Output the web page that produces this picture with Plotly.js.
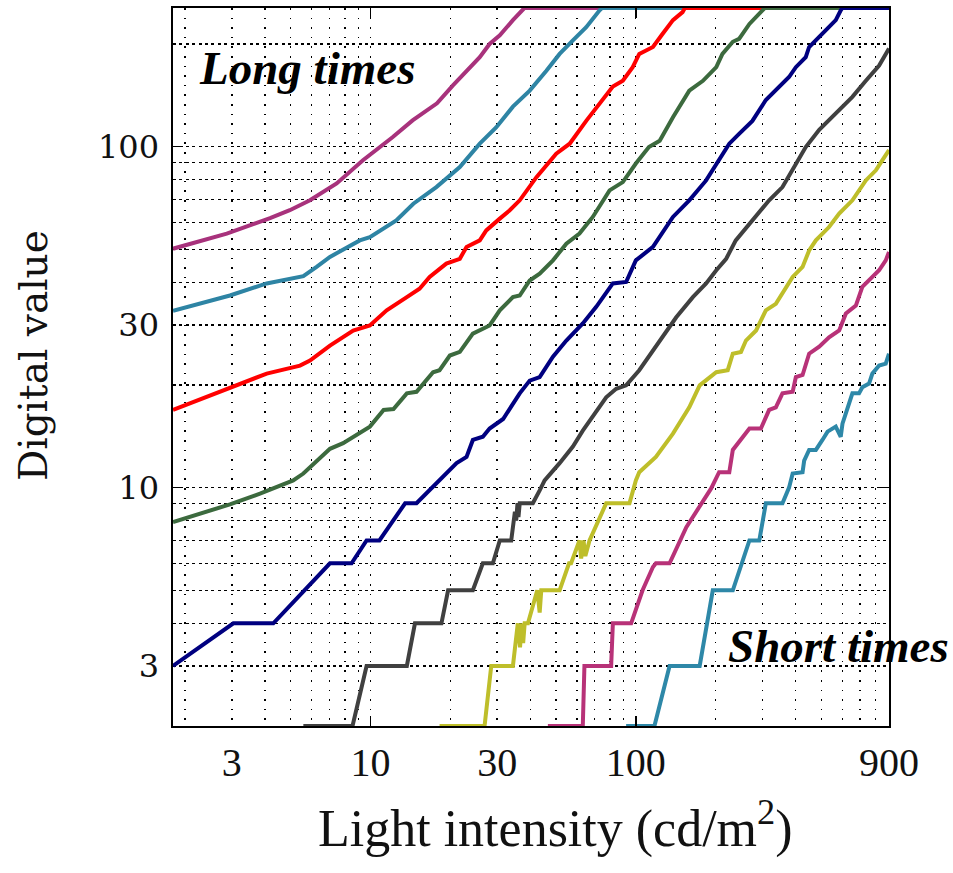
<!DOCTYPE html>
<html>
<head>
<meta charset="utf-8">
<script src="https://cdn.plot.ly/plotly-3.0.1.min.js"></script>
<style>html,body{margin:0;padding:0;background:#fff;}#chart{width:953px;height:873px;}</style>
</head>
<body>
<div id="chart"></div>
<script>
// Light intensity (cd/m^2) vs digital value, one series per exposure time (long -> short)
var c1x = [1.8, 2.87, 4.18, 4.96, 5.91, 7.45, 9.36, 12.1, 14.4, 17.8, 20.4, 23.0, 25.8, 28.1, 30.7, 34.4, 37.0, 38.0, 900];
var c1y = [50.2, 55.6, 61.7, 65.1, 69.6, 78, 91.2, 106.5, 119.4, 134, 151, 167, 183, 200, 212, 235, 251, 255, 255];

var c2x = [1.8, 2.95, 4.06, 5.58, 6.26, 7.03, 9.11, 9.94, 12.5, 14.5, 17.7, 21.7, 25.8, 29.8, 34.4, 39.8, 46.0, 51.6, 57.9, 65.0, 73.0, 74.5, 900];
var c2y = [33.0, 36.6, 39.7, 41.7, 44.4, 47.5, 53.1, 54.3, 60.8, 68.0, 76.1, 87.1, 102, 114, 131, 146, 167, 187, 205, 224, 251, 255, 255];

var c3x = [1.8, 2.95, 4.06, 5.42, 5.91, 7.03, 8.60, 9.94, 11.5, 13.7, 15.3, 16.7, 19.3, 21.7, 23.0, 25.8, 27.3, 30.7, 33.4, 36.5, 42.2, 50.1, 56.3, 65.0, 75.1, 81.9, 89.3, 97.3, 103, 116, 126, 138, 150, 153, 900];
var c3y = [16.9, 19.7, 21.6, 22.8, 23.6, 26.1, 28.9, 29.9, 33.1, 36.2, 38.3, 41.5, 45.4, 46.9, 50.8, 53.1, 56.8, 61.5, 65.0, 69.6, 81.4, 95.4, 102, 119, 137, 150, 156, 171, 187, 196, 214, 235, 248, 255, 255];

var c4x = [1.8, 2.95, 3.83, 5.11, 5.58, 7.03, 7.88, 9.94, 11.2, 12.2, 13.7, 14.9, 17.2, 18.2, 19.9, 21.7, 24.3, 28.1, 30.7, 34.4, 36.5, 39.8, 43.4, 48.7, 54.7, 61.3, 68.8, 79.6, 89.3, 100, 112, 123, 138, 159, 179, 201, 212, 232, 245, 268, 300, 306, 900];
var c4y = [7.93, 8.93, 9.60, 10.5, 11.0, 13.0, 13.5, 15.1, 16.9, 17.0, 18.9, 19.1, 21.8, 22.1, 24.4, 25.0, 28.3, 29.9, 33.1, 36.2, 36.6, 40.5, 42.4, 46.4, 51.9, 55.6, 62.2, 74.4, 78.7, 89.2, 99.7, 104, 122, 146, 156, 171, 187, 203, 207, 229, 251, 255, 255];

var c5x = [1.8, 3.04, 4.30, 7.03, 8.48, 9.66, 10.8, 12.2, 13.5, 14.9, 18.2, 19.3, 21.1, 23.0, 24.3, 26.5, 28.1, 31.6, 34.4, 36.5, 39.8, 43.4, 48.7, 54.7, 63.1, 70.9, 81.9, 91.9, 100, 116, 138, 159, 184, 201, 225, 245, 275, 309, 347, 378, 401, 437, 450, 505, 567, 592, 600, 900];
var c5y = [3, 4, 4, 6, 6, 7, 7, 8, 9, 9, 10.5, 11.0, 11.8, 12.3, 13.8, 14.1, 14.9, 15.9, 17.6, 18.9, 20.6, 21.1, 24.2, 27.0, 30.3, 33.9, 39.7, 40.1, 46.4, 50.8, 62.2, 69.6, 79.6, 89.2, 102, 109, 119, 137, 150, 160, 171, 183, 196, 214, 235, 251, 255, 255];

var c6x = [5.58, 8.55, 9.66, 13.7, 14.7, 18.5, 19.6, 24.3, 26.5, 28.9, 30.7, 33.9, 35.0, 35.4, 35.8, 36.1, 36.5, 40.9, 43.4, 45.3, 51.6, 57.9, 63.1, 68.8, 77.3, 84.3, 91.9, 103, 116, 130, 142, 164, 184, 201, 219, 238, 275, 318, 357, 390, 437, 491, 567, 655, 736, 826, 900];
var c6y = [2, 2, 3, 3, 4, 4, 5, 5, 6, 6, 7, 7, 8.5, 8, 9, 8.2, 9, 9, 9.82, 10.5, 11.8, 13.2, 14.7, 16.1, 18.4, 19.5, 19.95, 22.1, 25.3, 28.9, 31.6, 36.2, 39.7, 43.4, 46.9, 53.1, 60.8, 69.6, 76.1, 85.2, 99.7, 112, 125, 140, 156, 173, 194];

var c7x = [18.2, 26.9, 28.5, 34.4, 35.9, 36.6, 37.1, 37.6, 38.1, 39.2, 42.5, 43.4, 44.0, 44.5, 51.6, 56, 57, 61.3, 62.2, 63.5, 64.5, 66.9, 77.3, 94.6, 100, 103, 119, 138, 159, 174, 201, 222, 232, 249, 260, 284, 309, 337, 368, 390, 425, 450, 477, 535, 584, 655, 736, 803, 850, 900];
var c7y = [2, 2, 3, 3, 4, 3.4, 4, 3.5, 4, 4, 5, 4.3, 5, 5, 5, 6, 6, 7, 6.2, 7, 6.3, 7, 9, 9, 10.5, 11.1, 12.3, 14.4, 17.2, 19.95, 21.8, 22.1, 24.7, 25.0, 27.0, 28.9, 33.1, 34.6, 38.8, 41.5, 44.4, 49.6, 53.1, 58.1, 63.6, 69.6, 79.6, 85.2, 91.3, 97.7];

var c8x = [46.6, 63.1, 64.0, 80.7, 81.9, 96.0, 106, 116, 119, 134, 155, 179, 192, 206, 225, 232, 268, 296, 318, 337, 357, 390, 401, 425, 450, 491, 535, 584, 619, 675, 714, 779, 826, 875, 900];
var c8y = [2, 2, 3, 3, 4, 4, 5, 5.85, 6, 6, 7.66, 9.18, 9.93, 11.1, 11.1, 12.9, 14.9, 14.9, 16.9, 17.2, 18.9, 19.1, 21.1, 21.4, 24.7, 25.9, 27.6, 28.9, 32.4, 34.2, 38.8, 41.5, 43.4, 46.4, 49.1];

var c9x = [91.9, 117.5, 134, 174, 195, 232, 268, 292, 309, 357, 378, 390, 425, 431, 450, 477, 505, 528, 567, 592, 601, 627, 655, 694, 714, 757, 779, 826, 875, 900];
var c9y = [2, 2, 3, 3, 5, 5, 7, 7, 9, 9, 10, 11.0, 11.1, 12.0, 12.9, 12.9, 13.8, 14.6, 15.1, 14.1, 15.4, 17.2, 18.9, 18.9, 19.7, 20.2, 21.6, 22.8, 23.1, 24.7];

var seriesX = [c1x, c2x, c3x, c4x, c5x, c6x, c7x, c8x, c9x];
var seriesY = [c1y, c2y, c3y, c4y, c5y, c6y, c7y, c8y, c9y];
var colors = ['#A8327C', '#2E84A4', '#FF0000', '#3C6A3E', '#000080', '#404040', '#BEBE2A', '#B83278', '#2E88A8'];

// gridlines and tick labels
var gridX = [2,3,4,5,6,7,8,9,10,20,30,40,50,60,70,80,90,100,200,300,400,500,600,700,800,900];
var labelsX = {3:'3', 10:'10', 30:'30', 100:'100', 900:'900'};
var gridY = [2,3,4,5,6,7,8,9,10,20,30,40,50,60,70,80,90,100,200];
var labelsY = {3:'3', 10:'10', 30:'30', 100:'100'};
var decadeTicks = [10, 100];
var xRange = [Math.log10(1.8), Math.log10(900)];
var yRange = [Math.log10(2), Math.log10(255)];

var traces = seriesX.map(function (xs, i) {
  return {x: xs, y: seriesY[i], type: 'scatter', mode: 'lines',
    line: {color: colors[i], width: 4}, hoverinfo: 'skip', showlegend: false};
});
traces.push({x: [], y: [], xaxis: 'x2', yaxis: 'y2', type: 'scatter', mode: 'lines', showlegend: false, hoverinfo: 'skip'});

var layout = {
  width: 953, height: 873,
  margin: {l: 173, r: 64, t: 8, b: 147},
  paper_bgcolor: '#fff', plot_bgcolor: '#fff',
  showlegend: false,
  xaxis: {
    type: 'log', range: xRange, autorange: false,
    tickmode: 'array', tickvals: gridX, tickangle: 0,
    ticktext: gridX.map(function (v) { return labelsX[v] || ''; }),
    ticks: '', showgrid: true, gridcolor: '#000', gridwidth: 1.3, griddash: '1.6px,8px',
    showline: true, linecolor: '#000', linewidth: 1.6, mirror: true, zeroline: false,
    tickfont: {family: 'Liberation Serif, serif', size: 40, color: '#111'},
    ticklabelstandoff: 0
  },
  yaxis: {
    type: 'log', range: yRange, autorange: false,
    tickmode: 'array', tickvals: gridY, tickangle: 0,
    ticktext: gridY.map(function (v) { return labelsY[v] || ''; }),
    ticks: '', showgrid: true, gridcolor: '#000', gridwidth: 1.3, griddash: '3px,3.4px',
    showline: true, linecolor: '#000', linewidth: 1.6, mirror: true, zeroline: false,
    tickfont: {family: 'DejaVu Serif, serif', size: 32, color: '#111'},
    ticklabelstandoff: 6
  },
  xaxis2: {
    type: 'log', range: xRange, autorange: false, overlaying: 'x', anchor: 'y2',
    tickmode: 'array', tickvals: decadeTicks, ticks: 'inside', ticklen: 10, tickwidth: 1.6,
    tickcolor: '#000', showticklabels: false, showgrid: false, zeroline: false, showline: false, mirror: 'ticks'
  },
  yaxis2: {
    type: 'log', range: yRange, autorange: false, overlaying: 'y', anchor: 'x2',
    tickmode: 'array', tickvals: decadeTicks, ticks: 'inside', ticklen: 10, tickwidth: 1.6,
    tickcolor: '#000', showticklabels: false, showgrid: false, zeroline: false, showline: false, mirror: 'ticks'
  },
  annotations: [
    {text: 'Light intensity (cd/m<sup>2</sup>)', xref: 'paper', yref: 'paper', x: 0.534, y: -0.138,
     xanchor: 'center', yanchor: 'middle', showarrow: false,
     font: {family: 'Liberation Serif, serif', size: 52, color: '#111'}},
    {text: 'Digital value', xref: 'paper', yref: 'paper', x: -0.195, y: 0.5157, textangle: -90,
     xanchor: 'center', yanchor: 'middle', showarrow: false,
     font: {family: 'DejaVu Serif, serif', size: 39, color: '#111'}},
    {text: '<b><i>Long times</i></b>', xref: 'paper', yref: 'paper', x: 0.033, y: 0.917,
     xanchor: 'left', yanchor: 'middle', showarrow: false,
     font: {family: 'Liberation Serif, serif', size: 47, color: '#000'}},
    {text: '<b><i>Short times</i></b>', xref: 'paper', yref: 'paper', x: 0.772, y: 0.112,
     xanchor: 'left', yanchor: 'middle', showarrow: false,
     font: {family: 'Liberation Serif, serif', size: 47, color: '#000'}}
  ]
};

Plotly.newPlot('chart', traces, layout, {displayModeBar: false, staticPlot: true});
</script>
</body>
</html>
